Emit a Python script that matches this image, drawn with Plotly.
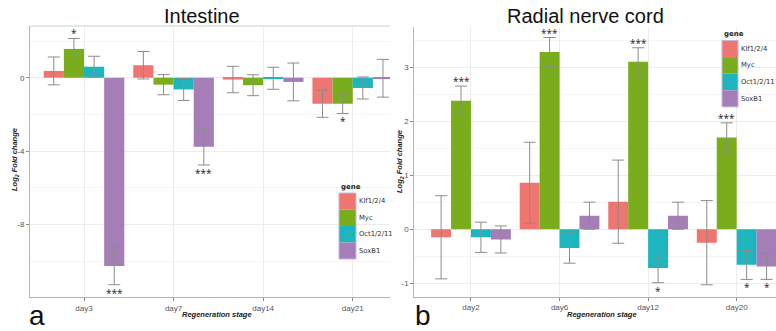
import plotly.graph_objects as go

W, H = 776, 331

genes = ["Klf1/2/4", "Myc", "Oct1/2/11", "SoxB1"]
colors = ["#EF7570", "#7AAD1C", "#1DB6BE", "#A57DB7"]

# Intestine (panel a)
int_days = ["day3", "day7", "day14", "day21"]
int_vals = {
    "Klf1/2/4": [0.37, 0.68, -0.10, -1.42],
    "Myc": [1.57, -0.38, -0.41, -1.42],
    "Oct1/2/11": [0.60, -0.64, -0.03, -0.56],
    "SoxB1": [-10.27, -3.76, -0.23, -0.03],
}
int_err = {
    "Klf1/2/4": [0.76, 0.75, 0.72, 0.74],
    "Myc": [0.57, 0.55, 0.57, 0.53],
    "Oct1/2/11": [0.57, 0.60, 0.60, 0.60],
    "SoxB1": [1.02, 1.00, 1.03, 1.03],
}
int_sig = {
    "Klf1/2/4": ["", "", "", ""],
    "Myc": ["*", "", "", "*"],
    "Oct1/2/11": ["", "", "", ""],
    "SoxB1": ["***", "***", "", ""],
}

# Radial nerve cord (panel b)
rnc_days = ["day2", "day6", "day12", "day20"]
rnc_vals = {
    "Klf1/2/4": [-0.15, 0.86, 0.51, -0.25],
    "Myc": [2.38, 3.28, 3.10, 1.70],
    "Oct1/2/11": [-0.15, -0.35, -0.72, -0.66],
    "SoxB1": [-0.19, 0.25, 0.25, -0.69],
}
rnc_err = {
    "Klf1/2/4": [0.77, 0.75, 0.77, 0.78],
    "Myc": [0.27, 0.27, 0.26, 0.27],
    "Oct1/2/11": [0.28, 0.28, 0.27, 0.27],
    "SoxB1": [0.25, 0.25, 0.25, 0.24],
}
rnc_sig = {
    "Klf1/2/4": ["", "", "", ""],
    "Myc": ["***", "***", "***", "***"],
    "Oct1/2/11": ["", "", "*", "*"],
    "SoxB1": ["", "", "", "*"],
}

BAR_W = 0.225
fig = go.Figure()
annotations = []

def add_panel(days, vals, errs, sigs, xa, ya):
    for k, g in enumerate(genes):
        xs = list(range(len(days)))
        fig.add_trace(go.Bar(
            x=xs, y=vals[g], name=g, offsetgroup=str(k),
            marker=dict(color=colors[k], line=dict(width=0)),
            error_y=dict(type="data", array=errs[g], color="#8c8c8c",
                         thickness=1, width=6),
            xaxis=xa, yaxis=ya, showlegend=False,
        ))
        for i, s in enumerate(sigs[g]):
            if not s:
                continue
            v = vals[g][i]
            e = errs[g][i]
            xpos = i + (k - 1.5) * BAR_W
            if v >= 0:
                annotations.append(dict(x=xpos, y=v + e, xref=xa, yref=ya,
                                        text=s, showarrow=False, yanchor="bottom",
                                        yshift=-4, font=dict(size=10, color="#222")))
            else:
                annotations.append(dict(x=xpos, y=v - e, xref=xa, yref=ya,
                                        text=s, showarrow=False, yanchor="top",
                                        yshift=1, font=dict(size=10, color="#222")))

add_panel(int_days, int_vals, int_err, int_sig, "x", "y")
add_panel(rnc_days, rnc_vals, rnc_err, rnc_sig, "x2", "y2")

def px(x):
    return x / W

def py(y):
    return 1 - y / H

tickfont = dict(size=8, color="#555", family="Liberation Sans, Arial")
grid = "#ececec"
axline = "#b5b5b5"

fig.update_layout(
    width=W, height=H,
    margin=dict(l=0, r=0, t=0, b=0),
    paper_bgcolor="white", plot_bgcolor="white",
    barmode="group", bargap=0.1, bargroupgap=0,
    xaxis=dict(domain=[px(30), px(390)], range=[-0.603, 3.416],
               tickvals=list(range(4)), ticktext=int_days,
               showgrid=True, gridcolor=grid, gridwidth=1,
               showline=True, linecolor=axline, linewidth=1,
               ticks="outside", ticklen=3, tickcolor="#888",
               tickfont=tickfont, zeroline=False, anchor="y"),
    yaxis=dict(domain=[py(297), py(26)], range=[-11.96, 2.82],
               tickvals=[-8, -4, 0], ticktext=["-8", "-4", "0"],
               showgrid=True, gridcolor=grid, gridwidth=1,
               minor=dict(tickvals=[-10, -6, -2, 2], showgrid=True,
                          gridcolor="#f5f5f5", ticks=""),
               showline=True, linecolor=axline, linewidth=1,
               ticks="outside", ticklen=3, tickcolor="#888",
               tickfont=tickfont, zeroline=False, anchor="x"),
    xaxis2=dict(domain=[px(414.3), 1.0], range=[-0.64, 3.444],
                tickvals=list(range(4)), ticktext=rnc_days,
                showgrid=True, gridcolor=grid, gridwidth=1,
                showline=True, linecolor=axline, linewidth=1,
                ticks="outside", ticklen=3, tickcolor="#888",
                tickfont=tickfont, zeroline=False, anchor="y2"),
    yaxis2=dict(domain=[py(296.7), py(26.7)], range=[-1.25, 3.75],
                tickvals=[-1, 0, 1, 2, 3], ticktext=["-1", "0", "1", "2", "3"],
                showgrid=True, gridcolor=grid, gridwidth=1,
                minor=dict(tickvals=[-0.5, 0.5, 1.5, 2.5, 3.5], showgrid=True,
                           gridcolor="#f5f5f5", ticks=""),
                showline=True, linecolor=axline, linewidth=1,
                ticks="outside", ticklen=3, tickcolor="#888",
                tickfont=tickfont, zeroline=False, anchor="x2"),
)

# top border of the left panel
shapes = [dict(type="line", xref="x domain", yref="y domain", x0=0, x1=1,
               y0=1, y1=1, line=dict(color="#d0d0d0", width=1))]

title_font = dict(size=20, color="#111", family="Liberation Sans, Arial")
lab_font = dict(size=7.5, color="#222", family="Liberation Sans, Arial")
letter_font = dict(size=28, color="#111", family="Liberation Sans, Arial")

annotations += [
    dict(x=px(202), y=py(16), xref="paper", yref="paper", text="Intestine",
         showarrow=False, font=title_font, xanchor="center", yanchor="middle"),
    dict(x=px(585), y=py(16), xref="paper", yref="paper", text="Radial nerve cord",
         showarrow=False, font=title_font, xanchor="center", yanchor="middle"),
    dict(x=px(217), y=py(314), xref="paper", yref="paper",
         text="<b><i>Regeneration stage</i></b>", showarrow=False, font=lab_font,
         xanchor="center", yanchor="middle"),
    dict(x=px(602), y=py(314), xref="paper", yref="paper",
         text="<b><i>Regeneration stage</i></b>", showarrow=False, font=lab_font,
         xanchor="center", yanchor="middle"),
    dict(x=px(15), y=py(160), xref="paper", yref="paper",
         text="<b><i>Log<sub>2</sub> Fold change</i></b>", showarrow=False,
         font=lab_font, textangle=-90, xanchor="center", yanchor="middle"),
    dict(x=px(400), y=py(161), xref="paper", yref="paper",
         text="<b><i>Log<sub>2</sub> Fold change</i></b>", showarrow=False,
         font=lab_font, textangle=-90, xanchor="center", yanchor="middle"),
    dict(x=px(37), y=0, xref="paper", yref="paper", text="a",
         showarrow=False, font=letter_font, xanchor="center", yanchor="bottom",
         yshift=-2),
    dict(x=px(423), y=0, xref="paper", yref="paper", text="b",
         showarrow=False, font=letter_font, xanchor="center", yanchor="bottom",
         yshift=-2),
]

# manual legends (ggplot style key blocks)
def add_legend(x0, y_title, y_top, sw_w, sw_h):
    annotations.append(dict(x=px(x0), y=py(y_title), xref="paper", yref="paper",
                            text="<b>gene</b>", showarrow=False, xanchor="left",
                            yanchor="middle",
                            font=dict(size=7, color="#222", family="DejaVu Sans")))
    for k, g in enumerate(genes):
        ya = y_top + k * sw_h
        shapes.append(dict(type="rect", xref="paper", yref="paper",
                           x0=px(x0), x1=px(x0 + sw_w), y0=py(ya + sw_h), y1=py(ya),
                           fillcolor=colors[k], line=dict(width=0)))
        annotations.append(dict(x=px(x0 + sw_w + 1), y=py(ya + sw_h / 2),
                                xref="paper", yref="paper", text=g, showarrow=False,
                                xanchor="left", yanchor="middle",
                                font=dict(size=6.8, color="#333", family="DejaVu Sans")))
    shapes.append(dict(type="rect", xref="paper", yref="paper",
                       x0=px(x0), x1=px(x0 + sw_w), y0=py(y_top + 4 * sw_h), y1=py(y_top),
                       line=dict(color="#c9b6d6", width=1), fillcolor="rgba(0,0,0,0)"))

add_legend(339, 187, 193, 17, 16.5)
add_legend(722, 34, 40.5, 16, 16.6)

fig.update_layout(annotations=annotations, shapes=shapes)
fig.write_html("out.html", config={"displayModeBar": False},
               post_script="document.body.style.margin='0';document.body.style.overflow='hidden';")
